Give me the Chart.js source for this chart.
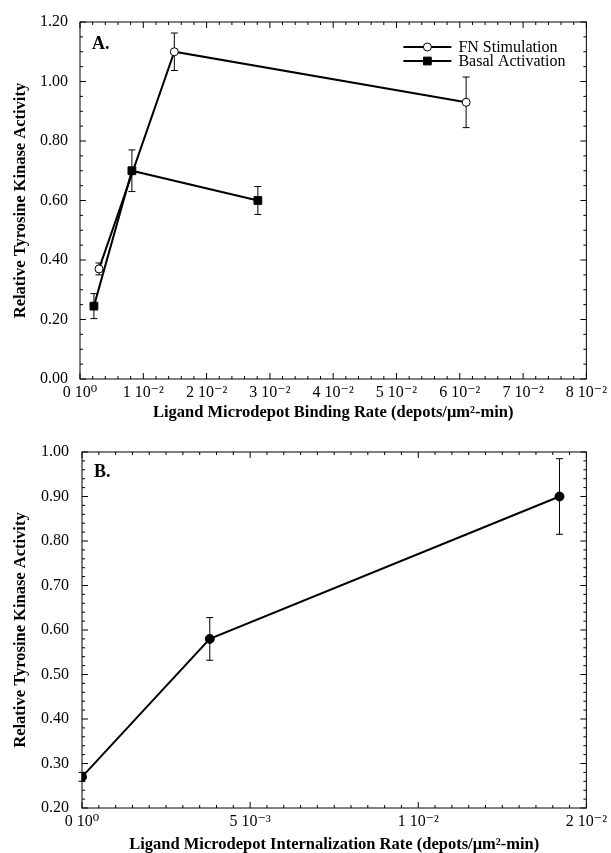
<!DOCTYPE html>
<html>
<head>
<meta charset="utf-8">
<script src="https://cdn.jsdelivr.net/npm/chart.js@4.4.0/dist/chart.umd.min.js"></script>
<style>
    html, body { margin: 0; padding: 0; background: #fff; }
    #chartA { position: absolute; left: 0; top: 0; }
    #chartB { position: absolute; left: 0; top: 425px; }
</style>
</head>
<body>
<canvas id="chartA" width="611" height="425"></canvas>
<canvas id="chartB" width="611" height="428"></canvas>
<script>
// --- Painel A: taxa de ligação ---
const bindingTickLabels = ['0 10⁰', '1 10⁻²', '2 10⁻²', '3 10⁻²', '4 10⁻²', '5 10⁻²', '6 10⁻²', '7 10⁻²', '8 10⁻²'];
const fnX = [0.0030, 0.0149, 0.0610];
const fnY = [0.37, 1.10, 0.93];
const fnErr = [0.02, 0.063, 0.085];
const basalX = [0.0022, 0.0082, 0.0281];
const basalY = [0.245, 0.70, 0.60];
const basalErr = [0.042, 0.07, 0.047];

// --- Painel B: taxa de internalização ---
const internTickLabels = ['0 10⁰', '5 10⁻³', '1 10⁻²', '2 10⁻²'];
const internX = [0, 0.0038, 0.0142];
const internY = [0.27, 0.58, 0.90];
const internErr = [0.01, 0.048, 0.085];

const SERIF = "'Liberation Serif', 'DejaVu Serif', serif";
Chart.defaults.font.family = SERIF;
Chart.defaults.color = '#000';

// barras de erro desenhadas antes dos pontos
const errorBars = {
    id: 'errorBars',
    beforeDatasetsDraw(chart) {
        const { ctx, scales: { x, y } } = chart;
        ctx.save();
        ctx.strokeStyle = '#000';
        ctx.lineWidth = 1;
        chart.data.datasets.forEach(ds => {
            if (!ds.errors) return;
            ds.data.forEach((pt, i) => {
                const px = x.getPixelForValue(pt.x);
                const top = y.getPixelForValue(pt.y + ds.errors[i]);
                const bot = y.getPixelForValue(pt.y - ds.errors[i]);
                ctx.beginPath();
                ctx.moveTo(px, top); ctx.lineTo(px, bot);
                ctx.moveTo(px - 3.5, top); ctx.lineTo(px + 3.5, top);
                ctx.moveTo(px - 3.5, bot); ctx.lineTo(px + 3.5, bot);
                ctx.stroke();
            });
        });
        ctx.restore();
    }
};

// moldura, ticks internos (maiores e menores), rótulo do painel e legenda
const frame = {
    id: 'frame',
    afterDraw(chart, args, opts) {
        const { ctx, chartArea: a, scales: { x, y } } = chart;
        ctx.save();
        ctx.strokeStyle = '#000';
        ctx.lineWidth = 1;
        ctx.strokeRect(a.left, a.top, a.right - a.left, a.bottom - a.top);

        const ticks = (scale, minor, major, horizontal) => {
            const n = Math.round((scale.max - scale.min) / minor);
            const every = Math.round(major / minor);
            ctx.beginPath();
            for (let i = 0; i <= n; i++) {
                const p = scale.getPixelForValue(scale.min + i * minor);
                const len = i % every === 0 ? 6 : 3;
                if (horizontal) {
                    ctx.moveTo(p, a.bottom); ctx.lineTo(p, a.bottom - len);
                    ctx.moveTo(p, a.top); ctx.lineTo(p, a.top + len);
                } else {
                    ctx.moveTo(a.left, p); ctx.lineTo(a.left + len, p);
                    ctx.moveTo(a.right, p); ctx.lineTo(a.right - len, p);
                }
            }
            ctx.stroke();
        };
        ticks(x, opts.xMinor, opts.xMajor, true);
        ticks(y, opts.yMinor, opts.yMajor, false);

        ctx.fillStyle = '#000';
        ctx.font = `bold 18px ${SERIF}`;
        ctx.textBaseline = 'alphabetic';
        ctx.fillText(opts.panel, a.left + 12, a.top + opts.panelY);

        if (opts.legend) {
            ctx.font = `16px ${SERIF}`;
            ctx.textBaseline = 'middle';
            chart.data.datasets.forEach((ds, i) => {
                const ly = a.top + 25 + i * 14;
                const x0 = a.right - 183, x1 = a.right - 135;
                ctx.strokeStyle = '#000';
                ctx.lineWidth = ds.borderWidth;
                ctx.beginPath(); ctx.moveTo(x0, ly); ctx.lineTo(x1, ly); ctx.stroke();
                ctx.fillStyle = ds.pointBackgroundColor;
                ctx.lineWidth = 1;
                Chart.helpers.drawPoint(ctx, {
                    pointStyle: ds.pointStyle, radius: ds.pointRadius, borderWidth: 1, rotation: 0
                }, (x0 + x1) / 2, ly);
                ctx.fillStyle = '#000';
                ctx.fillText(ds.label, a.right - 128, ly + 1);
            });
        }
        ctx.restore();
    }
};

function serie(label, xs, ys, errs, style, radius, fill) {
    return {
        label: label,
        data: xs.map((v, i) => ({ x: v, y: ys[i] })),
        errors: errs,
        showLine: true,
        borderColor: '#000',
        borderWidth: 2,
        pointStyle: style,
        pointRadius: radius,
        pointHoverRadius: radius,
        pointBackgroundColor: fill,
        pointBorderColor: '#000',
        pointBorderWidth: 1
    };
}

function montarOpcoes(c) {
    return {
        responsive: false,
        animation: false,
        devicePixelRatio: 1,
        layout: { padding: { top: c.padTop, right: c.padRight, left: 0, bottom: 0 }, autoPadding: false },
        plugins: {
            legend: { display: false },
            tooltip: { enabled: false },
            frame: c.frame
        },
        scales: {
            x: {
                type: 'linear', min: c.xMin, max: c.xMax,
                ticks: {
                    stepSize: c.xStep, autoSkip: false, maxRotation: 0, padding: 4,
                    font: { size: 16 }, color: '#000',
                    callback: v => c.xLabels[Math.round((v - c.xMin) / c.xStep)]
                },
                grid: { display: false, drawTicks: false }, border: { display: false },
                title: {
                    display: true, text: c.xTitle, color: '#000',
                    font: { size: 16.5, weight: 'bold', lineHeight: 1 }, padding: { top: 0, bottom: c.xTitlePad }
                },
                afterFit: s => { s.height = c.xHeight; }
            },
            y: {
                type: 'linear', min: c.yMin, max: c.yMax,
                ticks: {
                    stepSize: c.yStep, padding: c.yTickPad,
                    font: { size: 16 }, color: '#000',
                    callback: v => v.toFixed(2)
                },
                grid: { display: false, drawTicks: false }, border: { display: false },
                title: {
                    display: true, text: 'Relative Tyrosine Kinase Activity', color: '#000',
                    font: { size: 16.5, weight: 'bold', lineHeight: 1 }, padding: { top: 12, bottom: 0 }
                },
                afterFit: s => { s.width = c.yWidth; }
            }
        }
    };
}

new Chart(document.getElementById('chartA'), {
    type: 'scatter',
    data: {
        datasets: [
            serie('FN Stimulation', fnX, fnY, fnErr, 'circle', 4, '#fff'),
            serie('Basal Activation', basalX, basalY, basalErr, 'rect', 5.5, '#000')
        ]
    },
    options: montarOpcoes({
        padTop: 22, padRight: 21, xHeight: 46, yWidth: 80, yTickPad: 12,
        xMin: 0, xMax: 0.08, xStep: 0.01, xLabels: bindingTickLabels,
        yMin: 0, yMax: 1.2, yStep: 0.2,
        xTitle: 'Ligand Microdepot Binding Rate (depots/μm²-min)', xTitlePad: 4,
        frame: { xMinor: 0.002, xMajor: 0.01, yMinor: 0.05, yMajor: 0.2, panel: 'A.', panelY: 27, legend: true }
    }),
    plugins: [errorBars, frame]
});

new Chart(document.getElementById('chartB'), {
    type: 'scatter',
    data: {
        datasets: [
            serie('Internalization', internX, internY, internErr, 'circle', 4.5, '#000')
        ]
    },
    options: montarOpcoes({
        padTop: 27, padRight: 19, xHeight: 45, yWidth: 82, yTickPad: 13,
        xMin: 0, xMax: 0.015, xStep: 0.005, xLabels: internTickLabels,
        yMin: 0.2, yMax: 1.0, yStep: 0.1,
        xTitle: 'Ligand Microdepot Internalization Rate (depots/μm²-min)', xTitlePad: 0,
        frame: { xMinor: 0.0005, xMajor: 0.005, yMinor: 0.02, yMajor: 0.1, panel: 'B.', panelY: 25, legend: false }
    }),
    plugins: [errorBars, frame]
});
</script>
</body>
</html>
